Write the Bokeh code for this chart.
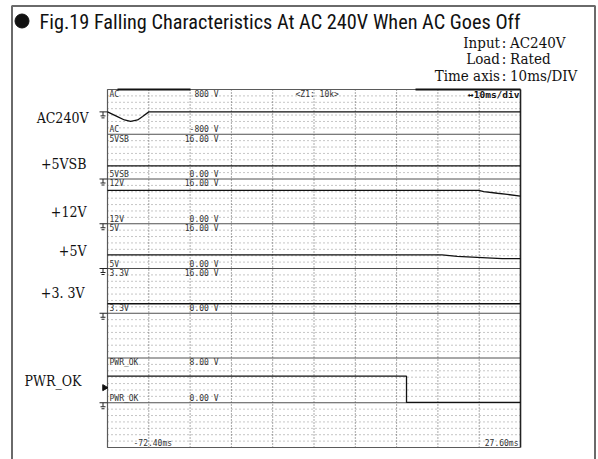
from bokeh.plotting import figure
from bokeh.models import Range1d
from bokeh.embed import file_html
from bokeh.resources import INLINE
from bokeh.core.properties import value

# ---------------- data ----------------
title_text = "Fig.19  Falling Characteristics At AC 240V When AC Goes Off"
cond_keys = ["Input", "Load", "Time axis"]
cond_vals = ["AC240V", "Rated", "10ms/DIV"]

ch_names = ["AC", "5VSB", "12V", "5V", "3.3V", "PWR_OK"]
ch_side = ["AC240V", "+5VSB", "+12V", "+5V", "+3. 3V", "PWR_OK"]
ch_div = [0, 1, 2, 3, 4, 6]
ch_vmax = [800, 16, 16, 16, 16, 8]
ch_vmin = [-800, 0, 0, 0, 0, 0]
ch_top_lbl = ["800 V", "16.00 V", "16.00 V", "16.00 V", "16.00 V", "8.00 V"]
ch_bot_lbl = ["-800 V", "0.00 V", "0.00 V", "0.00 V", "0.00 V", "0.00 V"]

t_start, t_end = -72.40, 27.60
ms_per_div = 10
n_vdiv = 8
zoom_text = "<Z1: 10k>"
tdiv_text = "\u219410ms/div"

ac_t = [-72.4, -70.0, -68.3, -66.8, -65.1, -63.9, -62.4, 27.6]
ac_v = [0, -170, -290, -340, -290, -165, 0, 0]
vsb_t = [-72.4, 27.6]
vsb_v = [4.7, 4.7]
v12_t = [-72.4, 17.5, 18.7, 22.0, 24.4, 27.6]
v12_v = [11.9, 11.9, 11.5, 10.9, 10.5, 9.85]
v5_t = [-72.4, 8.6, 12.3, 19.5, 23.2, 27.6]
v5_v = [4.9, 4.9, 4.3, 3.8, 3.5, 3.5]
v33_t = [-72.4, 27.6]
v33_v = [3.4, 3.4]
pok_t = [-72.4, 0.0, 0.0, 27.6]
pok_v = [4.75, 4.75, 0.05, 0.05]
trace_t = [ac_t, vsb_t, v12_t, v5_t, v33_t, pok_t]
trace_v = [ac_v, vsb_v, v12_v, v5_v, v33_v, pok_v]
trig_ch = "PWR_OK"
trig_level = 2.7

# ---------------- layout ----------------
W, H = 598, 459
M = 0
SL, SR, ST, SB = 107.0, 520.0, 89.0, 447.0
n_hdiv = round((t_end - t_start) / ms_per_div)
pxms = (SR - SL) / (t_end - t_start)
dh = (SB - ST) / n_vdiv


def t_of(px):
    return t_start + (px - SL) / pxms


def d_of(py):
    return (py - ST) / dh


p = figure(width=W, height=H,
           x_range=Range1d(t_of(M), t_of(M + W)),
           y_range=Range1d(d_of(M + H), d_of(M)),
           output_backend="svg", toolbar_location=None, min_border=0,
           x_axis_type=None, y_axis_type=None,
           background_fill_color="white", border_fill_color="white",
           outline_line_color=None)
p.title = None

p.extra_x_ranges = {"px": Range1d(M, M + W)}
yr = {"py": Range1d(M + H, M)}
zero_py = []
for i, n in enumerate(ch_names):
    bot = ST + (ch_div[i] + 1) * dh
    span = ch_vmax[i] - ch_vmin[i]
    lo = ch_vmin[i] + (bot - (M + H)) / dh * span
    hi = ch_vmin[i] + (bot - M) / dh * span
    yr[n] = Range1d(lo, hi)
    zero_py.append(bot - (0 - ch_vmin[i]) / span * dh)
p.extra_y_ranges = yr

PX = dict(x_range_name="px", y_range_name="py")
SERIF = value("'DejaVu Serif Condensed', 'Liberation Serif'")

# outer frame
p.line([11.5, 11.5, 594.5, 594.5], [M + H, 5.5, 5.5, M + H], line_color="#6a6a6a", line_width=2, **PX)

# title
p.scatter([21.5], [20.5], marker="circle", size=14, fill_color="#111", line_color="#111", **PX)
p.text([39], [21], text=[title_text],
       text_font=value("'Roboto Condensed', 'DejaVu Sans Condensed', 'Liberation Sans'"),
       text_font_size="20.3px", text_color="#111", text_baseline="middle", **PX)

# condition block (colon aligned)
cy = [42.5, 58.5, 75.0]
p.text([499.5] * 3, cy, text=cond_keys, text_font=SERIF, text_font_size="15px",
       text_align="right", text_baseline="middle", text_color="#111", **PX)
p.text([503.5] * 3, cy, text=[":"] * 3, text_font=SERIF, text_font_size="15px",
       text_align="center", text_baseline="middle", text_color="#111", **PX)
p.text([509.5] * 3, cy, text=cond_vals, text_font=SERIF, text_font_size="15px",
       text_align="left", text_baseline="middle", text_color="#111", **PX)

# side labels
side_y = [117, 163, 211, 250, 292, 380]
side_x = [88, 86, 86, 86, 84, 81]
p.text(side_x, side_y, text=ch_side, text_font=SERIF, text_font_size="14px",
       text_align="right", text_baseline="middle", text_color="#111", **PX)

# ---------------- scope grid ----------------
rows_y = [d + j / 7 for d in range(n_vdiv) for j in range(1, 7)]
p.multi_line(xs=[[t_start, t_end]] * len(rows_y), ys=[[y, y] for y in rows_y],
             line_color="#8c8c8c", line_width=1, line_dash="1 3")
vx = [t_start + k * ms_per_div for k in range(1, n_hdiv)]
p.multi_line(xs=[[x, x] for x in vx], ys=[[0, n_vdiv]] * len(vx),
             line_color="#555555", line_width=1, line_dash="1 2")
p.multi_line(xs=[[t_start, t_end]] * (n_vdiv - 1), ys=[[d, d] for d in range(1, n_vdiv)],
             line_color="#505050", line_width=1)
# frame of the screen
p.line([t_end, t_start, t_start, t_end], [0, 0, n_vdiv, n_vdiv], line_color="#5a5a5a", line_width=1.2)
p.line([t_end, t_end], [0, n_vdiv], line_color="#222", line_width=1.6)
p.multi_line(xs=[[t_of(117), t_of(190)], [t_of(415), t_end]], ys=[[0, 0], [0, 0]],
             line_color="#111", line_width=2)

# ---------------- traces ----------------
for i, n in enumerate(ch_names):
    p.line(trace_t[i], trace_v[i], y_range_name=n, line_color="#111", line_width=1.3)

# trigger mark
p.scatter([104], [trig_level], x_range_name="px", y_range_name=trig_ch, marker="triangle",
          size=6, angle=-1.5708, fill_color="#111", line_color="#111")

# ground symbols
gx0, gx1 = 99.0, SL
p.multi_line(xs=[[gx0, gx1] for _ in zero_py], ys=[[z, z] for z in zero_py], line_color="#222", line_width=1, **PX)
p.multi_line(xs=[[102.5, 102.5] for _ in zero_py], ys=[[z, z + 4] for z in zero_py], line_color="#222", line_width=1, **PX)
p.multi_line(xs=[[100, 105] for _ in zero_py], ys=[[z + 4, z + 4] for z in zero_py], line_color="#222", line_width=1, **PX)
p.multi_line(xs=[[101, 104] for _ in zero_py], ys=[[z + 6, z + 6] for z in zero_py], line_color="#222", line_width=1, **PX)

# ---------------- scope texts ----------------
MONO = value("DejaVu Sans Mono")
top_py = [ST + d * dh + 4.75 for d in ch_div]
bot_py = [ST + (d + 1) * dh - 4.5 for d in ch_div]
p.text([109] * len(ch_names) * 2, top_py + bot_py, text=ch_names + ch_names, text_font=MONO,
       text_font_size="8px", text_baseline="middle", text_color="#333", **PX)
p.text([218] * len(ch_names) * 2, top_py + bot_py, text=ch_top_lbl + ch_bot_lbl, text_font=MONO,
       text_font_size="8px", text_align="right", text_baseline="middle", text_color="#333", **PX)
p.text([295], [top_py[0]], text=[zoom_text], text_font=MONO, text_font_size="8px",
       text_baseline="middle", text_color="#333", **PX)
p.text([519], [top_py[0]], text=[tdiv_text], text_font=MONO, text_font_size="9.5px",
       text_font_style="bold", text_align="right", text_baseline="middle", text_color="#111", **PX)
p.text([133], [SB - 4.5], text=[f"{t_start:.2f}ms"], text_font=MONO,
       text_font_size="8px", text_align="left", text_baseline="middle", text_color="#333", **PX)
p.text([518], [SB - 4.5], text=[f"{t_end:.2f}ms"], text_font=MONO,
       text_font_size="8px", text_align="right", text_baseline="middle", text_color="#333", **PX)

open("out.html", "w").write(file_html(p, INLINE))
